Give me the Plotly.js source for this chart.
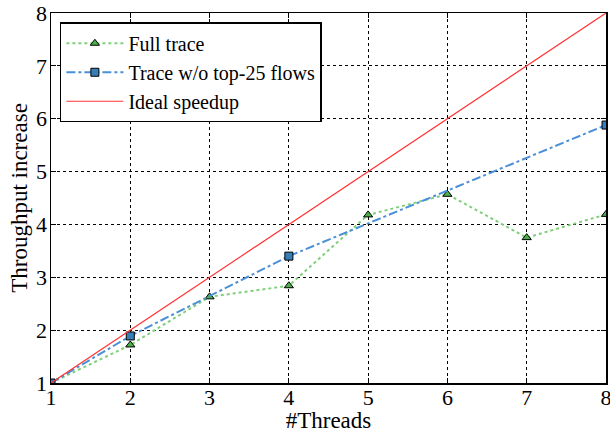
<!DOCTYPE html>
<html>
<head>
<meta charset="utf-8">
<script src="https://cdn.plot.ly/plotly-3.0.1.min.js"></script>
<style>html,body{margin:0;padding:0;background:#fff;}#chart{width:610px;height:433px;}</style>
</head>
<body>
<div id="chart"></div>
<script>
const fullThreads = [1, 2, 3, 4, 5, 6, 7, 8];
const fullTrace = [1.0, 1.72, 2.63, 2.84, 4.18, 4.57, 3.75, 4.19];
const woThreads = [1, 2, 4, 8];
const woTop25 = [1.0, 1.89, 3.40, 5.88];
const idealThreads = [1, 8];
const idealSpeedup = [1, 8];
const tickVals = [1, 2, 3, 4, 5, 6, 7, 8];

const serifFam = 'Liberation Serif';

const data = [
  {
    x: fullThreads, y: fullTrace, name: 'Full trace', mode: 'lines+markers',
    line: {color: '#7fcf7a', width: 2, dash: 'dot'},
    marker: {symbol: 'triangle-up', size: 8, color: '#4daf4a', line: {color: '#000', width: 1}}
  },
  {
    x: woThreads, y: woTop25, name: 'Trace w/o top-25 flows', mode: 'lines+markers',
    line: {color: '#4a90d9', width: 2, dash: 'dashdot'},
    marker: {symbol: 'square', size: 8, color: '#377eb8', line: {color: '#000', width: 1}}
  },
  {
    x: idealThreads, y: idealSpeedup, name: 'Ideal speedup', mode: 'lines',
    line: {color: '#ff3333', width: 1.2}
  }
];

function axis(titleText, standoff, labelStandoff) {
  return {
    range: [1, 8], tickvals: tickVals, ticktext: tickVals.map(String),
    showline: true, linecolor: '#000', linewidth: 1.5, mirror: 'allticks',
    ticks: 'inside', ticklen: 5, tickcolor: '#000',
    showgrid: true, gridcolor: '#000', griddash: 'dot', gridwidth: 1,
    zeroline: false, ticklabeloverflow: 'allow', ticklabelstandoff: labelStandoff,
    tickfont: {family: serifFam, size: 22, color: '#000'},
    title: {text: titleText, font: {family: serifFam, size: 23, color: '#000'}, standoff: standoff}
  };
}

const layout = {
  width: 610, height: 433,
  margin: {l: 51, r: 4, t: 13, b: 50},
  paper_bgcolor: '#fff', plot_bgcolor: '#fff',
  font: {family: serifFam, color: '#000', size: 20},
  xaxis: axis('#Threads', 0, -6),
  yaxis: axis('Throughput increase', 2, -2),
  showlegend: true,
  legend: {
    x: 0.016, y: 0.975, xanchor: 'left', yanchor: 'top',
    bordercolor: '#000', borderwidth: 1.5, bgcolor: '#fff',
    font: {family: serifFam, size: 20, color: '#000'},
    itemwidth: 57
  }
};

Plotly.newPlot('chart', data, layout, {displayModeBar: false, staticPlot: true});
</script>
</body>
</html>
